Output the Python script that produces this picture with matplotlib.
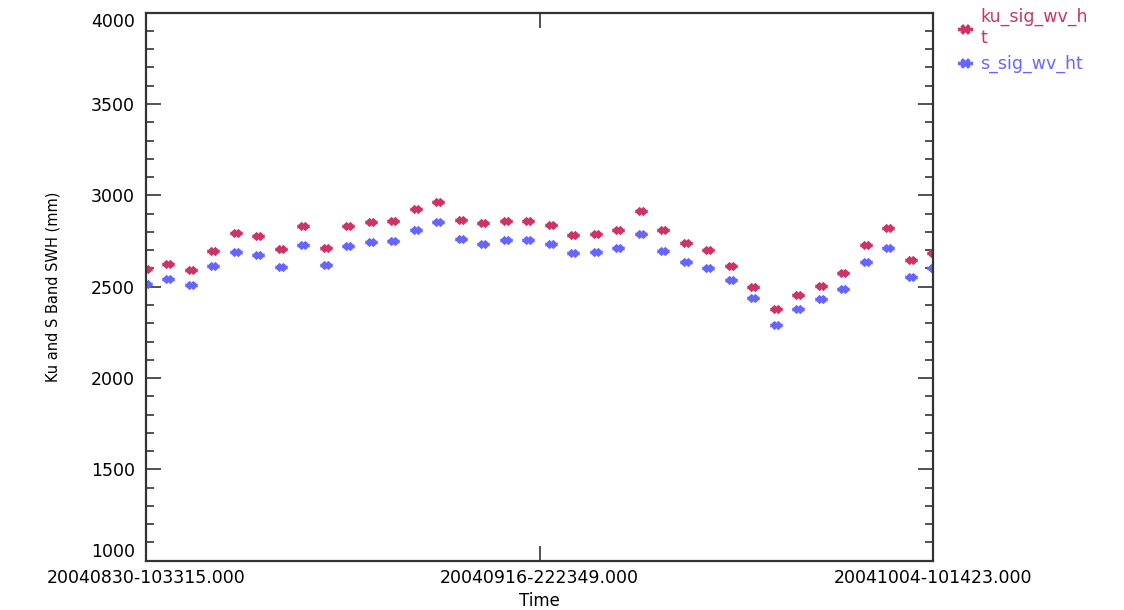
import matplotlib
matplotlib.use("Agg")
import matplotlib.pyplot as plt
import numpy as np
from matplotlib.path import Path
from matplotlib.ticker import MultipleLocator

# data (36 samples, evenly spaced in time)
ku_sig_wv_ht = [2599, 2626, 2592, 2696, 2795, 2777, 2707, 2835, 2713, 2830,
                2852, 2859, 2923, 2963, 2864, 2848, 2859, 2859, 2837, 2784,
                2791, 2813, 2916, 2808, 2738, 2702, 2615, 2500, 2377, 2452,
                2506, 2575, 2731, 2820, 2645, 2685]
s_sig_wv_ht = [2516, 2540, 2509, 2614, 2691, 2672, 2608, 2731, 2621, 2725,
               2743, 2749, 2811, 2853, 2760, 2736, 2754, 2754, 2736, 2685,
               2691, 2714, 2790, 2696, 2634, 2603, 2535, 2436, 2289, 2377,
               2430, 2487, 2634, 2714, 2553, 2601]
time_labels = ["20040830-103315.000", "20040916-222349.000", "20041004-101423.000"]

red = "#CC3366"
blue = "#6666FF"

# squashed IDL style asterisk
s = 0.65
star = Path([(-1, 0), (1, 0), (-0.5, -0.866 * s), (0.5, 0.866 * s),
             (0.5, -0.866 * s), (-0.5, 0.866 * s)],
            [Path.MOVETO, Path.LINETO, Path.MOVETO, Path.LINETO,
             Path.MOVETO, Path.LINETO])

fig = plt.figure(figsize=(11.24, 6.10), dpi=100)
ax = fig.add_axes([0.1299, 0.0808, 0.7002, 0.8984])

x = np.arange(len(ku_sig_wv_ht))
ax.plot(x, ku_sig_wv_ht, linestyle="none", marker=star, markersize=9,
        markeredgewidth=2.6, color=red, label="ku_sig_wv_h\nt")
ax.plot(x, s_sig_wv_ht, linestyle="none", marker=star, markersize=9,
        markeredgewidth=2.6, color=blue, label="s_sig_wv_ht")

ax.set_xlim(0, len(x) - 1)
ax.set_ylim(1000, 4000)
ax.set_xticks([0, (len(x) - 1) / 2, len(x) - 1])
ax.set_xticklabels(time_labels)
ax.set_yticks(np.arange(1000, 4001, 500))
ax.yaxis.set_minor_locator(MultipleLocator(100))
ax.tick_params(which="both", direction="in", top=True, right=True,
               labelsize=12.5, colors="#333333", labelcolor="black")
ax.tick_params(which="major", length=11, width=1.2)
ax.tick_params(which="minor", length=6, width=1.2)
ax.tick_params(axis="x", pad=6)
ax.tick_params(axis="y", pad=8)
for sp in ax.spines.values():
    sp.set_linewidth(1.6)
    sp.set_color("#333333")

# end labels sit inside the axis range, like IDL draws them
yticks = ax.yaxis.get_major_ticks()
yticks[0].label1.set_verticalalignment("bottom")
yticks[-1].label1.set_verticalalignment("top")

ax.set_xlabel("Time", fontsize=12, labelpad=3.5)
ax.set_ylabel("Ku and S Band SWH (mm)", fontsize=10.5, labelpad=22)

leg = ax.legend(loc="upper left", bbox_to_anchor=(1.008, 1.04), frameon=False,
                fontsize=12.5, labelcolor="linecolor", handlelength=0.9,
                handletextpad=0.45, labelspacing=0.45, borderaxespad=0.6,
                markerscale=1.2)

fig.savefig("out.png", dpi=100)
